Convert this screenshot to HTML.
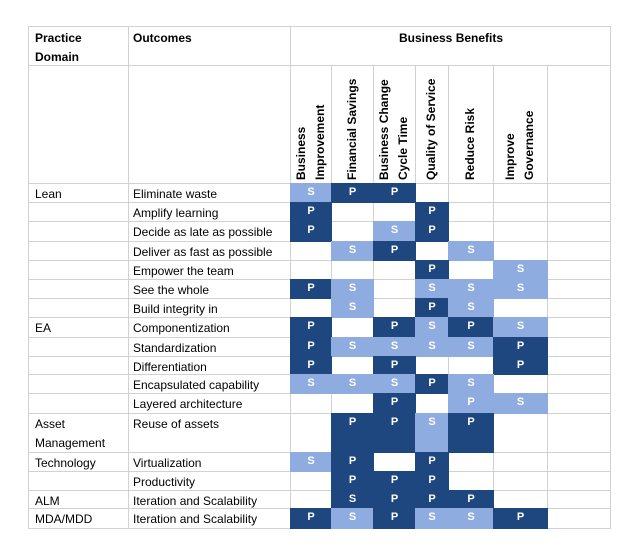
<!DOCTYPE html>
<html><head><meta charset="utf-8">
<style>
body{margin:0;background:#fff;width:629px;height:551px;position:relative;overflow:hidden;font-family:"Liberation Sans",Arial,sans-serif;font-size:12px;color:#000}
.a{position:absolute}
.hl{position:absolute;height:1px;background:#cfd3d3}
.vl{position:absolute;width:1px;background:#cfd3d3}
.b{font-weight:bold}
.c{position:absolute;color:#fff;font-weight:bold;text-align:center;font-size:11px}
.rot{position:absolute;transform:rotate(-90deg);transform-origin:left top;font-weight:bold;line-height:19px;white-space:nowrap}
.t{position:absolute;white-space:nowrap}
</style></head><body>
<div id="tbl"></div>
<script>
const colX=[290,331,373,415,448,493,547,610];
const rowY=[183,202,221,241,260,279,298,317,337,356,374,393,413,452,471,490,508,528];
const domains=[["Lean",0],["EA",7],["Asset",12],["Technology",13],["ALM",15],["MDA/MDD",16]];
const outcomes=["Eliminate waste","Amplify learning","Decide as late as possible","Deliver as fast as possible","Empower the team","See the whole","Build integrity in","Componentization","Standardization","Differentiation","Encapsulated capability","Layered architecture","Reuse of assets","Virtualization","Productivity","Iteration and Scalability","Iteration and Scalability"];
const cells=[
["SL","PD","PD","","",""],
["PD","","","PD","",""],
["PD","","SL","PD","",""],
["","SL","PD","","SL",""],
["","","","PD","","SL"],
["PD","SL","","SL","SL","SL"],
["","SL","","PD","SL",""],
["PD","","PD","SL","PD","SL"],
["PD","SL","SL","SL","SL","PD"],
["PD","","PD","","","PD"],
["SL","SL","SL","PD","SL",""],
["","","PD","","PL","SL"],
["","PD","PD","SL","PD",""],
["SL","PD","","PD","",""],
["","PD","PD","PD","",""],
["","SD","PD","PD","PD",""],
["PD","SL","PD","SL","SL","PD"]];
const benefits=[["Business","Improvement"],["Financial Savings"],["Business Change","Cycle Time"],["Quality of Service"],["Reduce Risk"],["Improve","Governance"]];
const T=document.getElementById('tbl');
function add(cls,style,txt){const d=document.createElement('div');d.className=cls;d.style.cssText=style;if(txt!==undefined)d.textContent=txt;T.appendChild(d);return d;}
[26,65,183].forEach(y=>{const e=add('hl',`left:28px;width:583px;top:${y}px`);});
rowY.slice(1).forEach((y,i)=>{const e=add('hl',`left:28px;width:583px;top:${y}px`);});
[28,128,290,610].forEach(x=>{const e=add('vl',`left:${x}px;top:26px;height:503px`);});
colX.slice(1,7).forEach(x=>{const e=add('vl',`left:${x}px;top:65px;height:464px`);});
let h=add('t b','left:35px;top:29px;line-height:19px','Practice');h.innerHTML='Practice<br>Domain';


h=add('t b','left:133px;top:29px;line-height:19px','Outcomes');


h=add('t b','left:399px;top:29px;line-height:19px','Business Benefits');


benefits.forEach((b,i)=>{
  const w=colX[i+1]-colX[i];
  const lh=b.length*19;
  const e=add('rot',`left:${colX[i]+(w-lh)/2}px;top:180px`);
  e.innerHTML=b.join('<br>');
  
  
});
outcomes.forEach((o,r)=>{
  const e=add('t',`left:133px;top:${rowY[r]+2}px;line-height:19px`,o);
  
  
});
domains.forEach(([d,r])=>{
  const e=add('t',`left:35px;top:${rowY[r]+2}px;line-height:19px`,d);
  if(d==="Asset")e.innerHTML='Asset<br>Management';
  
  
});
cells.forEach((row,r)=>row.forEach((v,c)=>{
  if(!v)return;
  const x=colX[c],w=colX[c+1]-x+1,y=rowY[r],hh=rowY[r+1]-y+1;
  const bg=v[1]==='D'?'#1e477f':'#8eacdf';
  const e=add('c',`left:${x}px;top:${y}px;width:${w}px;height:${hh}px;background:${bg};line-height:19px`,v[0]);
  
  
}));
</script>
</body></html>
